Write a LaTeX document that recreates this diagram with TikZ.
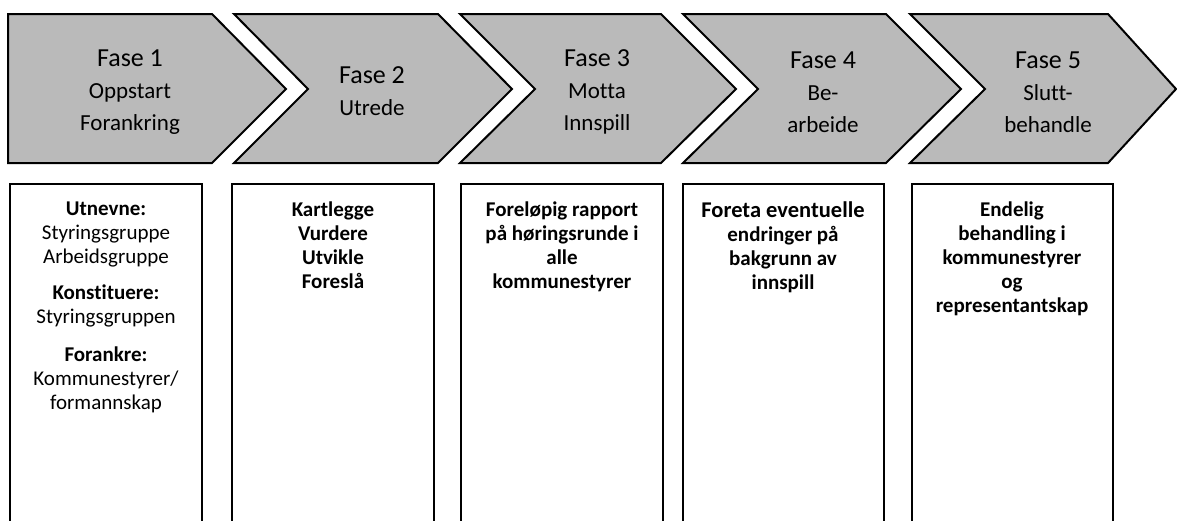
\documentclass[tikz,border=0pt]{standalone}
\usepackage{fontspec}
\setmainfont[Ligatures={NoCommon}]{Carlito}
\begin{document}
\begin{tikzpicture}[x=1pt,y=-1pt,
  chev/.style={draw=black,line width=2pt,fill=black!27,line join=miter},
  infobox/.style={draw=black,line width=1.8pt},
  fasetxt/.style={align=center,inner sep=0pt,font=\fontsize{23}{32}\selectfont},
  boxtxt/.style={align=center,inner sep=0pt,anchor=north,font=\fontsize{21}{24}\selectfont\bfseries}
]
\useasboundingbox (0,0) rectangle (1177,520);
\begin{scope}
\clip (0,0) rectangle (1177,520);
% chevrons
\draw[chev] (8,14) -- (212,14) -- (286,89) -- (212,163) -- (8,163) -- cycle;
\draw[chev] (234,14) -- (438,14) -- (512,89) -- (438,163) -- (234,163) -- (308,89) -- cycle;
\draw[chev] (460,14) -- (661,14) -- (736,89) -- (661,163) -- (460,163) -- (535,89) -- cycle;
\draw[chev] (683,14) -- (886,14) -- (961,89) -- (886,163) -- (683,163) -- (758,89) -- cycle;
\draw[chev] (910,14) -- (1108,14) -- (1176,89) -- (1108,163) -- (910,163) -- (985,89) -- cycle;
% boxes
\draw[infobox] (10,184) rectangle (202,540);
\draw[infobox] (232,184) rectangle (434,540);
\draw[infobox] (461,184) rectangle (663,540);
\draw[infobox] (683,184) rectangle (884,540);
\draw[infobox] (912,184) rectangle (1113,540);
\end{scope}
% chevron texts
\node[fasetxt] (f1) at (130,92) {{\fontsize{26}{32}\selectfont Fase 1}\\Oppstart\\Forankring};
\node[fasetxt] (f2) at (372,91) {{\fontsize{26}{32}\selectfont Fase 2}\\Utrede};
\node[fasetxt] (f3) at (597,92) {{\fontsize{26}{32}\selectfont Fase 3}\\Motta\\Innspill};
\node[fasetxt] (f4) at (823,92) {{\fontsize{26}{32}\selectfont Fase 4}\\Be-\\arbeide};
\node[fasetxt] (f5) at (1048,92) {{\fontsize{26}{32}\selectfont Fase 5}\\Slutt-\\behandle};
% box texts
\node[boxtxt] (b1) at (106,202) {Utnevne:\\\mdseries Styringsgruppe\\\mdseries Arbeidsgruppe\\[12pt]Konstituere:\\\mdseries Styringsgruppen\\[14pt]Forankre:\\\mdseries Kommunestyrer/\\\mdseries formannskap};
\node[boxtxt] (b2) at (333,202) {Kartlegge\\Vurdere\\Utvikle\\Foreslå};
\node[boxtxt] (b3) at (562,202) {Foreløpig rapport\\på høringsrunde i\\alle\\kommunestyrer};
\node[boxtxt] (b4) at (783,202) {{\fontsize{22.5}{24}\selectfont Foreta eventuelle}\\endringer på\\bakgrunn av\\innspill};
\node[boxtxt] (b5) at (1012,202) {Endelig\\behandling i\\kommunestyrer\\og\\representantskap};
\end{tikzpicture}
\end{document}
